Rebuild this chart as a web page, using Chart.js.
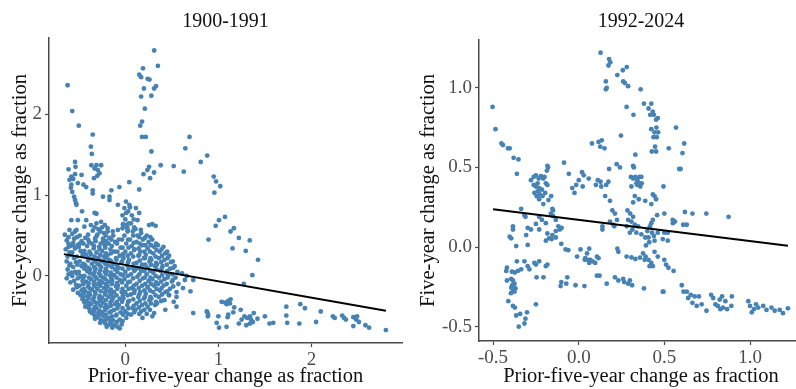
<!DOCTYPE html>
<html>
<head>
<meta charset="utf-8">
<script src="https://cdn.jsdelivr.net/npm/chart.js@4/dist/chart.umd.min.js"></script>
<style>
  html, body { margin: 0; padding: 0; background: #fff; overflow: hidden; width: 796px; height: 389px; }
  .panel { position: absolute; top: 0; height: 389px; }
  #early { left: 0; width: 406px; }
  #recent { left: 406px; width: 401px; }
</style>
</head>
<body>
<div class="panel" id="early"><canvas id="earlyCanvas"></canvas></div>
<div class="panel" id="recent"><canvas id="recentCanvas"></canvas></div>
<script>
const titles = ["1900-1991", "1992-2024"];
const xTitle = "Prior-five-year change as fraction";
const yTitle = "Five-year change as fraction";

const earlyXTicks = [0, 1, 2];
const earlyYTicks = [0, 1, 2];
const recentXTicks = [-0.5, 0.0, 0.5, 1.0];
const recentYTicks = [-0.5, 0.0, 0.5, 1.0];

// fitted lines, read at the two ends
const earlyFitX = [-0.66, 2.80];
const earlyFitY = [0.27, -0.43];
const recentFitX = [-0.50, 1.22];
const recentFitY = [0.237, 0.008];

// 1900-1991: scattered points above and right of the main cloud
const earlySparse = [
  [-0.62,2.36],[-0.57,2.04],[-0.50,1.86],[-0.35,1.75],[-0.37,1.60],[-0.36,1.51],
  [0.31,2.79],[0.35,2.60],[0.19,2.57],[0.15,2.49],[0.17,2.46],[0.24,2.44],[0.26,2.43],[0.33,2.35],
  [0.31,2.32],[0.20,2.32],[0.28,2.23],[0.17,2.22],[0.21,2.07],[0.18,1.91],[0.16,1.86],[0.18,1.72],
  [0.22,1.72],[0.28,1.54],[0.255,1.35],[0.237,1.31],[0.195,1.26],[0.309,1.28],[0.266,1.21],[0.38,1.37],
  [0.52,1.36],[0.628,1.29],[0.645,1.58],[0.69,1.72],[0.81,1.41],[0.88,1.49],[0.95,1.23],[0.975,1.17],
  [1.02,1.11],[0.957,1.03],[1.071,0.73],[1.007,0.69],[0.971,0.62],[1.131,0.55],[1.167,0.59],[0.894,0.45],
  [1.22,0.47],[1.337,0.44],[1.152,0.34],[1.294,0.31],[1.426,0.20],[1.365,0.01],[1.273,-0.10],[0.149,1.07],
  [-0.54,1.41],[-0.61,1.32],[-0.535,1.35],[-0.365,1.37],[-0.31,1.37],[-0.26,1.37],[-0.33,1.33],[-0.295,1.31],
  [-0.277,1.27],[-0.30,1.24],[-0.337,1.21],[-0.54,1.26],[-0.47,1.25],[-0.58,1.23],[-0.60,1.19],[-0.56,1.20],
  [-0.51,1.15],[-0.45,1.13],[-0.58,1.13],[-0.585,1.09],[-0.42,1.10],[-0.35,1.02],[-0.35,1.06],[-0.57,1.04],
  [-0.55,0.98],[-0.54,0.94],[-0.53,0.90],[-0.525,0.88],[-0.24,0.98],[-0.17,0.98],[-0.17,0.94],[-0.15,1.06],
  [-0.08,0.88],[-0.064,1.10],[0.043,1.16],[0.007,0.92],[0.043,0.88],[-0.465,0.80],[-0.42,0.69],[-0.33,0.78],
  [-0.31,0.77],[-0.58,0.69],[-0.51,0.69],[-0.44,0.61],[-0.40,0.51],[-0.525,0.57],[-0.60,0.57],[-0.54,0.55],
  [-0.65,0.51],[-0.61,0.48],[-0.26,0.67],[-0.22,0.63],[-0.19,0.59],[-0.135,0.55],[-0.08,0.57],[-0.03,0.59],
  [0.007,0.63],[0.025,0.57],[-0.61,0.36],[-0.56,0.38],[-0.49,0.40],[-0.40,0.45],[-0.31,0.49],[-0.24,0.42],
  [0.114,0.84],[0.149,0.78],[0.131,0.69],[0.167,0.57],[0.255,0.63],[0.29,0.64],[0.326,0.62]
];

// 1900-1991: the dense cloud near the origin
const earlyCloud = [
  [-0.63,0.44],[-0.61,0.40],[-0.64,0.33],[-0.60,0.29],[-0.62,0.24],[-0.63,0.18],[-0.60,0.13],[-0.62,0.08],[-0.61,0.02],[-0.63,-0.03],
  [-0.57,0.52],[-0.55,0.46],[-0.56,0.41],[-0.54,0.34],[-0.57,0.29],[-0.55,0.22],[-0.53,0.17],[-0.56,0.11],[-0.54,0.05],[-0.57,0.00],[-0.55,-0.06],[-0.53,-0.11],[-0.56,-0.17],
  [-0.49,0.50],[-0.47,0.43],[-0.50,0.36],[-0.48,0.31],[-0.46,0.25],[-0.49,0.18],[-0.47,0.12],[-0.50,0.05],[-0.48,0.00],[-0.46,-0.06],[-0.49,-0.12],[-0.47,-0.18],[-0.48,-0.24],[-0.46,-0.29],
  [-0.43,0.47],[-0.41,0.37],[-0.44,0.31],[-0.42,0.26],[-0.40,0.19],[-0.43,0.13],[-0.41,0.06],[-0.44,0.00],[-0.42,-0.07],[-0.40,-0.13],[-0.43,-0.19],[-0.41,-0.25],[-0.42,-0.31],[-0.40,-0.36],[-0.43,-0.38],
  [-0.37,0.63],[-0.35,0.56],[-0.36,0.40],[-0.34,0.34],[-0.37,0.27],[-0.35,0.21],[-0.36,0.15],[-0.38,0.08],[-0.35,0.02],[-0.37,-0.04],[-0.34,-0.10],[-0.36,-0.17],[-0.38,-0.23],[-0.35,-0.29],[-0.37,-0.35],[-0.34,-0.41],[-0.36,-0.46],
  [-0.31,0.65],[-0.29,0.58],[-0.30,0.51],[-0.32,0.43],[-0.28,0.36],[-0.31,0.29],[-0.29,0.22],[-0.30,0.15],[-0.32,0.09],[-0.28,0.03],[-0.31,-0.03],[-0.29,-0.10],[-0.30,-0.16],[-0.32,-0.22],[-0.28,-0.28],[-0.30,-0.34],[-0.31,-0.40],[-0.29,-0.46],[-0.30,-0.51],
  [-0.25,0.60],[-0.23,0.53],[-0.24,0.46],[-0.22,0.38],[-0.25,0.31],[-0.23,0.24],[-0.24,0.18],[-0.26,0.11],[-0.22,0.05],[-0.24,-0.02],[-0.25,-0.08],[-0.23,-0.15],[-0.22,-0.21],[-0.25,-0.27],[-0.24,-0.33],[-0.22,-0.39],[-0.25,-0.45],[-0.23,-0.50],[-0.24,-0.56],
  [-0.19,0.55],[-0.17,0.47],[-0.18,0.40],[-0.16,0.33],[-0.19,0.26],[-0.17,0.20],[-0.18,0.13],[-0.20,0.06],[-0.16,0.00],[-0.18,-0.07],[-0.19,-0.13],[-0.17,-0.20],[-0.18,-0.26],[-0.16,-0.33],[-0.19,-0.39],[-0.17,-0.45],[-0.18,-0.52],[-0.16,-0.57],[-0.19,-0.61],
  [-0.13,0.50],[-0.11,0.42],[-0.12,0.30],[-0.10,0.22],[-0.13,0.15],[-0.11,0.08],[-0.12,0.01],[-0.14,-0.06],[-0.10,-0.13],[-0.12,-0.20],[-0.13,-0.27],[-0.11,-0.35],[-0.12,-0.42],[-0.10,-0.49],[-0.13,-0.55],[-0.11,-0.61],
  [-0.07,0.45],[-0.05,0.35],[-0.06,0.25],[-0.04,0.17],[-0.07,0.10],[-0.05,0.02],[-0.06,-0.05],[-0.08,-0.12],[-0.04,-0.20],[-0.06,-0.28],[-0.07,-0.36],[-0.05,-0.45],[-0.06,-0.54],[-0.04,-0.60],[-0.06,-0.65],
  [-0.01,0.84],[0.01,0.78],[0.00,0.70],[0.02,0.60],[-0.01,0.50],[0.01,0.40],[0.00,0.30],[-0.02,0.22],[0.02,0.13],[0.00,0.05],[-0.01,-0.04],[0.01,-0.12],[0.00,-0.20],[-0.02,-0.28],[0.02,-0.36],[0.00,-0.44],[0.01,-0.52],
  [0.05,0.85],[0.07,0.75],[0.06,0.65],[0.08,0.55],[0.05,0.45],[0.07,0.37],[0.06,0.28],[0.04,0.20],[0.08,0.10],[0.06,0.02],[0.05,-0.07],[0.07,-0.15],[0.06,-0.23],[0.04,-0.31],[0.08,-0.40],[0.06,-0.48],
  [0.11,0.58],[0.13,0.50],[0.12,0.42],[0.10,0.33],[0.14,0.25],[0.12,0.16],[0.11,0.08],[0.13,-0.01],[0.12,-0.10],[0.10,-0.18],[0.14,-0.26],[0.12,-0.34],[0.11,-0.42],
  [0.17,0.53],[0.19,0.45],[0.18,0.38],[0.16,0.30],[0.20,0.22],[0.18,0.14],[0.17,0.06],[0.19,-0.03],[0.18,-0.12],[0.16,-0.20],[0.20,-0.28],[0.18,-0.36],[0.17,-0.44],
  [0.23,0.50],[0.25,0.42],[0.24,0.34],[0.22,0.26],[0.26,0.18],[0.24,0.10],[0.23,0.02],[0.25,-0.06],[0.24,-0.14],[0.22,-0.22],[0.26,-0.30],[0.24,-0.38],[0.23,-0.47],
  [0.29,0.45],[0.31,0.36],[0.30,0.28],[0.28,0.20],[0.32,0.12],[0.30,0.04],[0.29,-0.04],[0.31,-0.12],[0.30,-0.20],[0.28,-0.28],[0.32,-0.36],
  [0.35,0.38],[0.37,0.30],[0.36,0.22],[0.34,0.14],[0.38,0.06],[0.36,-0.02],[0.35,-0.10],[0.37,-0.18],[0.36,-0.26],[0.34,-0.34],
  [0.41,0.36],[0.43,0.28],[0.42,0.20],[0.40,0.12],[0.44,0.04],[0.42,-0.04],[0.41,-0.12],[0.43,-0.20],[0.42,-0.30],
  [0.47,0.25],[0.49,0.17],[0.48,0.09],[0.46,0.01],[0.50,-0.07],[0.48,-0.16],[0.47,-0.24],
  [0.53,0.12],[0.56,0.05],[0.54,-0.02],[0.57,-0.10],[0.55,-0.20],[0.61,0.03],[0.64,-0.05],[0.62,-0.15],[0.66,0.00]
];

// 1900-1991: more of the cloud, read between the points above
const earlyCloudFill = [
  [-0.59,0.37],[-0.58,0.26],[-0.59,0.15],[-0.58,0.04],[-0.59,-0.08],
  [-0.52,0.48],[-0.51,0.38],[-0.52,0.24],[-0.515,0.14],[-0.52,0.03],[-0.51,-0.03],[-0.52,-0.14],[-0.51,-0.21],
  [-0.45,0.40],[-0.455,0.28],[-0.45,0.15],[-0.44,0.09],[-0.455,-0.03],[-0.45,-0.10],[-0.445,-0.16],[-0.45,-0.22],[-0.455,-0.27],[-0.44,-0.33],
  [-0.39,0.42],[-0.385,0.30],[-0.39,0.22],[-0.395,0.10],[-0.385,0.04],[-0.39,-0.02],[-0.395,-0.09],[-0.385,-0.15],[-0.39,-0.21],[-0.395,-0.27],[-0.385,-0.33],[-0.39,-0.40],[-0.38,-0.44],
  [-0.33,0.60],[-0.325,0.46],[-0.335,0.37],[-0.33,0.24],[-0.325,0.18],[-0.335,0.11],[-0.33,0.05],[-0.325,-0.01],[-0.335,-0.07],[-0.33,-0.13],[-0.325,-0.20],[-0.335,-0.26],[-0.33,-0.32],[-0.325,-0.38],[-0.335,-0.44],[-0.33,-0.49],[-0.325,-0.53],
  [-0.27,0.55],[-0.265,0.40],[-0.275,0.33],[-0.27,0.26],[-0.265,0.19],[-0.275,0.13],[-0.27,0.07],[-0.265,0.00],[-0.275,-0.06],[-0.27,-0.12],[-0.265,-0.19],[-0.275,-0.25],[-0.27,-0.31],[-0.265,-0.37],[-0.275,-0.43],[-0.27,-0.48],[-0.265,-0.54],[-0.27,-0.58],
  [-0.21,0.50],[-0.205,0.43],[-0.215,0.35],[-0.21,0.28],[-0.205,0.22],[-0.215,0.15],[-0.21,0.09],[-0.205,0.02],[-0.215,-0.04],[-0.21,-0.10],[-0.205,-0.17],[-0.215,-0.23],[-0.21,-0.30],[-0.205,-0.36],[-0.215,-0.42],[-0.21,-0.48],[-0.205,-0.54],[-0.215,-0.59],[-0.20,-0.63],
  [-0.15,0.45],[-0.145,0.37],[-0.155,0.28],[-0.15,0.18],[-0.145,0.11],[-0.155,0.04],[-0.15,-0.03],[-0.145,-0.10],[-0.155,-0.17],[-0.15,-0.23],[-0.145,-0.30],[-0.155,-0.37],[-0.15,-0.44],[-0.145,-0.50],[-0.155,-0.55],[-0.15,-0.60],[-0.14,-0.64],
  [-0.09,0.40],[-0.085,0.30],[-0.095,0.20],[-0.09,0.13],[-0.085,0.05],[-0.095,-0.02],[-0.09,-0.09],[-0.085,-0.16],[-0.095,-0.24],[-0.09,-0.32],[-0.085,-0.40],[-0.095,-0.48],[-0.09,-0.57],[-0.085,-0.63],
  [-0.03,0.75],[-0.025,0.64],[-0.035,0.45],[-0.03,0.35],[-0.025,0.27],[-0.035,0.18],[-0.03,0.09],[-0.025,0.01],[-0.035,-0.08],[-0.03,-0.16],[-0.025,-0.24],[-0.035,-0.32],[-0.03,-0.40],[-0.025,-0.48],[-0.03,-0.56],
  [0.03,0.80],[0.035,0.65],[0.025,0.55],[0.03,0.45],[0.035,0.35],[0.025,0.25],[0.03,0.17],[0.035,0.09],[0.025,0.00],[0.03,-0.08],[0.035,-0.16],[0.025,-0.24],[0.03,-0.32],[0.035,-0.40],[0.025,-0.47],
  [0.09,0.70],[0.095,0.60],[0.085,0.50],[0.09,0.41],[0.095,0.32],[0.085,0.24],[0.09,0.15],[0.095,0.06],[0.085,-0.03],[0.09,-0.12],[0.095,-0.21],[0.085,-0.29],[0.09,-0.37],[0.095,-0.45],
  [0.15,0.48],[0.155,0.40],[0.145,0.34],[0.15,0.26],[0.155,0.19],[0.145,0.10],[0.15,0.02],[0.155,-0.06],[0.145,-0.15],[0.15,-0.23],[0.155,-0.31],[0.145,-0.39],[0.15,-0.47],
  [0.21,0.47],[0.215,0.38],[0.205,0.30],[0.21,0.22],[0.215,0.14],[0.205,0.06],[0.21,-0.02],[0.215,-0.10],[0.205,-0.18],[0.21,-0.26],[0.215,-0.34],[0.205,-0.42],
  [0.27,0.48],[0.275,0.38],[0.265,0.30],[0.27,0.22],[0.275,0.14],[0.265,0.06],[0.27,-0.02],[0.275,-0.10],[0.265,-0.18],[0.27,-0.26],[0.275,-0.34],[0.265,-0.42],
  [0.33,0.40],[0.335,0.32],[0.325,0.24],[0.33,0.16],[0.335,0.08],[0.325,0.00],[0.33,-0.08],[0.335,-0.16],[0.325,-0.24],[0.33,-0.32],
  [0.39,0.33],[0.395,0.25],[0.385,0.17],[0.39,0.09],[0.395,0.01],[0.385,-0.07],[0.39,-0.15],[0.395,-0.23],[0.385,-0.31],
  [0.45,0.30],[0.455,0.22],[0.445,0.14],[0.45,0.06],[0.455,-0.02],[0.445,-0.10],[0.45,-0.19],
  [0.51,0.18],[0.515,0.10],[0.505,0.02],[0.51,-0.05],[0.515,-0.13]
];

// 1900-1991: the low band to the right
const earlyTail = [
  [0.70,-0.19],[0.55,-0.26],[0.73,-0.46],[0.88,-0.45],[0.89,-0.48],[0.55,-0.38],[0.31,-0.46],[0.29,-0.50],
  [0.184,-0.52],[0.52,-0.32],[0.43,-0.42],[0.73,-0.05],[0.468,-0.235],
  [1.035,-0.32],[1.071,-0.33],[1.106,-0.31],[1.131,-0.29],[1.089,-0.35],[1.124,-0.34],[1.170,-0.39],[1.160,-0.45],
  [1.106,-0.48],[1.099,-0.51],[0.876,-0.44],[0.887,-0.50],[1.0,-0.50],[0.982,-0.58],[1.007,-0.64],[1.088,-0.63],
  [1.22,-0.59],[1.25,-0.54],[1.28,-0.50],[1.31,-0.52],[1.34,-0.50],[1.35,-0.54],[1.38,-0.46],[1.42,-0.53],
  [1.30,-0.61],[1.34,-0.59],[1.37,-0.57],[1.24,-0.42],[1.50,-0.50],[1.55,-0.59],[1.59,-0.58],[1.73,-0.38],
  [1.73,-0.49],[1.74,-0.58],[1.87,-0.59],[1.88,-0.35],[1.93,-0.40],[2.05,-0.57],[2.10,-0.44],[2.23,-0.50],
  [2.25,-0.52],[2.33,-0.49],[2.35,-0.52],[2.37,-0.54],[2.45,-0.62],[2.45,-0.51],[2.48,-0.54],[2.51,-0.57],
  [2.49,-0.50],[2.58,-0.61],[2.62,-0.64],[2.80,-0.67]
];

// 1992-2024
const recentUpper = [
  [0.127,1.22],[0.177,1.18],[0.184,1.16],[0.173,1.14],[0.280,1.13],[0.257,1.11],[0.225,1.08],[0.158,1.04],
  [0.163,1.00],[0.158,0.99],[0.259,1.04],[0.269,1.03],[0.288,1.01],[0.361,0.99],[0.279,0.88],
  [0.380,0.90],[0.423,0.90],[0.407,0.87],[0.432,0.85],[0.438,0.83],[0.417,0.83],[0.461,0.81],[0.451,0.80],
  [0.423,0.74],[0.453,0.75],[0.442,0.72],[0.463,0.72],[0.436,0.69],[0.455,0.69],[0.426,0.60],[0.445,0.63],
  [0.451,0.60],[0.319,0.83],[0.567,0.75],[0.246,0.70],[0.330,0.58],[0.525,0.62],[0.615,0.65],[0.605,0.59],
  [0.586,0.49],[0.594,0.49],[0.494,0.38],[0.077,0.65],[0.115,0.66],[0.134,0.67],[0.125,0.63],[0.150,0.62],
  [-0.503,0.88],[-0.486,0.74],[-0.451,0.65],[-0.442,0.64],[-0.413,0.62],[-0.403,0.62],[-0.380,0.56],[-0.352,0.55],[-0.361,0.46]
];

const recentMiddle = [
  [-0.086,0.53],[-0.183,0.51],[-0.179,0.50],[-0.186,0.48],[-0.058,0.46],[0.019,0.47],[0.029,0.45],[0.000,0.42],
  [-0.015,0.39],[-0.038,0.37],[-0.025,0.34],[0.023,0.38],[0.058,0.43],[0.111,0.42],[0.127,0.41],[0.100,0.39],
  [0.131,0.38],[0.173,0.41],[0.160,0.39],[0.177,0.49],[0.221,0.52],[0.240,0.50],[0.317,0.51],[0.321,0.50],
  [0.304,0.44],[0.317,0.43],[0.330,0.44],[0.342,0.42],[0.354,0.44],[0.365,0.44],[0.336,0.40],[0.352,0.40],
  [0.367,0.40],[0.307,0.38],[0.342,0.39],[0.359,0.38],[0.327,0.32],[0.350,0.30],[0.317,0.28],
  [0.154,0.32],[0.182,0.29],[0.196,0.23],[0.211,0.21],[0.223,0.17],
  [0.432,0.33],[0.442,0.32],[0.451,0.30],[0.423,0.27],[0.388,0.29],[0.499,0.21],[0.457,0.20],
  [0.432,0.17],[0.423,0.15],[0.415,0.13],[0.400,0.10],[0.388,0.06],[0.407,0.06],[0.427,0.09],[0.438,0.07],
  [0.461,0.09],[0.442,0.04],[0.411,0.03],[0.392,0.01],
  [0.284,0.23],[0.300,0.21],[0.317,0.19],[0.288,0.17],[0.307,0.16],[0.327,0.14],[0.346,0.13],[0.280,0.13],
  [0.313,0.11],[0.298,0.09],[0.336,0.09],[0.365,0.08],[0.499,0.09],[0.490,0.05],[0.519,0.09],[0.519,0.04],
  [0.548,0.17],[0.561,0.16],[0.549,0.15],[0.619,0.22],[0.663,0.21],[0.609,0.14],[0.630,0.14],[0.744,0.21],[0.874,0.19],
  [0.138,0.13],[0.138,0.11],[0.182,0.16],[0.207,0.13],[0.202,0.14],
  [-0.279,0.42],[-0.263,0.44],[-0.250,0.45],[-0.234,0.43],[-0.221,0.445],[-0.207,0.43],[-0.192,0.40],[-0.263,0.39],
  [-0.250,0.38],[-0.240,0.40],[-0.231,0.37],[-0.215,0.36],[-0.240,0.35],[-0.259,0.34],[-0.246,0.32],[-0.227,0.33],
  [-0.211,0.32],[-0.196,0.34],[-0.183,0.39],[-0.177,0.295],[-0.161,0.32],[-0.231,0.30],[-0.200,0.44],
  [-0.336,0.24],[-0.317,0.20],[-0.311,0.19],[-0.298,0.12],[-0.279,0.11],[-0.307,0.075],[-0.384,0.11],[-0.403,0.065],
  [-0.394,0.055],[-0.365,0.006],[-0.384,0.13],[-0.231,0.19],[-0.215,0.17],[-0.192,0.15],[-0.163,0.21],[-0.150,0.23],
  [-0.150,0.195],[-0.134,0.17],[-0.119,0.13],[-0.111,0.11],[-0.134,0.10],[-0.154,0.075],[-0.134,0.06],[-0.100,0.12],
  [-0.158,0.05],[-0.250,0.145],[-0.231,0.11],[-0.183,0.085],[-0.173,0.055],[-0.192,0.04],[-0.102,0.02],[-0.077,-0.015],
  [-0.298,0.013],[-0.207,0.27],[-0.154,0.24]
];

const recentLower = [
  [0.225,-0.01],[0.231,-0.03],[0.279,-0.06],[0.307,-0.065],[0.330,-0.075],[0.357,-0.067],[0.375,-0.04],[0.390,-0.06],
  [0.384,-0.08],[0.407,-0.08],[0.423,-0.10],[0.432,-0.12],[0.413,-0.12],[0.442,-0.03],[0.461,-0.06],[0.499,-0.08],
  [0.509,-0.11],[0.523,-0.13],[0.211,-0.19],[0.231,-0.21],[0.259,-0.20],[0.265,-0.22],[0.288,-0.23],[0.298,-0.21],
  [0.311,-0.24],[0.163,-0.23],[0.380,-0.26],[0.490,-0.28],[0.106,-0.18],[0.121,-0.18],[0.033,-0.245],
  [0.048,-0.04],[0.061,-0.01],[0.038,-0.07],[0.054,-0.08],[0.067,-0.08],[0.081,-0.09],[0.096,-0.10],[0.061,-0.10],
  [0.035,-0.08],[0.106,-0.06],[0.115,-0.07],[-0.010,-0.06],[0.010,-0.015],[-0.061,-0.02],[-0.019,-0.24],
  [-0.102,-0.22],[-0.073,-0.23],[-0.067,-0.19],[-0.106,-0.245],[-0.192,-0.12],[-0.183,-0.11],
  [-0.246,-0.19],[-0.298,-0.12],[-0.288,-0.14],[-0.250,-0.11],[-0.259,-0.10],[-0.231,-0.09],[-0.317,-0.09],
  [-0.336,-0.14],[-0.355,-0.15],[-0.373,-0.16],[-0.390,-0.155],[-0.419,-0.13],[-0.361,-0.09],[-0.250,-0.36],[-0.206,-0.19],
  [-0.419,-0.21],[-0.394,-0.20],[-0.384,-0.21],[-0.375,-0.23],[-0.388,-0.24],[-0.380,-0.25],[-0.394,-0.255],[-0.369,-0.26],
  [-0.384,-0.27],[-0.375,-0.28],[-0.396,-0.29],[-0.411,-0.34],[-0.384,-0.37],[-0.373,-0.38],[-0.365,-0.43],[-0.342,-0.42],
  [-0.350,-0.50],[-0.317,-0.48],[-0.311,-0.45],[-0.302,-0.41],[-0.423,-0.15],
  [0.601,-0.24],[0.611,-0.28],[0.630,-0.28],[0.638,-0.32],[0.653,-0.30],[0.676,-0.31],[0.701,-0.31],[0.663,-0.35],
  [0.688,-0.37],[0.717,-0.36],[0.745,-0.40],[0.772,-0.30],[0.784,-0.32],[0.797,-0.36],[0.811,-0.37],[0.822,-0.33],
  [0.836,-0.31],[0.826,-0.39],[0.841,-0.38],[0.865,-0.39],[0.855,-0.34],[0.893,-0.31],[0.890,-0.37],[0.989,-0.34],
  [0.999,-0.37],[1.009,-0.41],[1.022,-0.39],[1.034,-0.36],[1.047,-0.38],[1.076,-0.37],[1.095,-0.395],[1.124,-0.38],
  [1.143,-0.40],[1.172,-0.395],[1.191,-0.415],[1.220,-0.385],[0.494,-0.28],[0.553,-0.15]
];

const serif = "'Liberation Serif', 'Times New Roman', serif";
const pointColor = "#4682b4";
const axisColor = "#4a4a4a";

function toXY(pairs) {
  return pairs.map(p => ({ x: p[0], y: p[1] }));
}

function makePanel(canvas, cfg) {
  return new Chart(canvas, {
    type: "scatter",
    data: {
      datasets: [
        {
          data: cfg.fitX.map((x, i) => ({ x: x, y: cfg.fitY[i] })),
          showLine: true,
          borderColor: "#000",
          borderWidth: 2,
          pointRadius: 0,
          order: 0
        },
        {
          data: toXY(cfg.points),
          backgroundColor: pointColor,
          borderWidth: 0,
          pointRadius: 2.4,
          order: 1
        }
      ]
    },
    options: {
      responsive: true,
      maintainAspectRatio: false,
      animation: false,
      devicePixelRatio: 1,
      layout: { padding: 0 },
      plugins: {
        legend: { display: false },
        tooltip: { enabled: false },
        title: {
          display: true,
          fullSize: false,
          text: cfg.title,
          color: "#111",
          font: { family: serif, size: 20, weight: "normal" },
          padding: { top: cfg.titleTop, bottom: cfg.titleBottom }
        }
      },
      scales: {
        x: {
          type: "linear",
          min: cfg.xMin,
          max: cfg.xMax,
          afterBuildTicks: s => { s.ticks = cfg.xTicks.map(v => ({ value: v })); },
          afterFit: s => { s.height = cfg.xHeight; },
          ticks: {
            callback: cfg.fmt,
            color: "#4d4d4d",
            padding: 2,
            font: { family: serif, size: 19 }
          },
          grid: { drawOnChartArea: false, drawTicks: true, tickLength: 4, tickColor: axisColor, tickWidth: 1.2 },
          border: { display: true, color: axisColor, width: 1.5 },
          title: {
            display: true,
            text: xTitle,
            color: "#111",
            font: { family: serif, size: 20.5 },
            padding: { top: 0, bottom: 0 }
          }
        },
        y: {
          type: "linear",
          min: cfg.yMin,
          max: cfg.yMax,
          afterBuildTicks: s => { s.ticks = cfg.yTicks.map(v => ({ value: v })); },
          afterFit: s => { s.width = cfg.yWidth; },
          ticks: {
            callback: cfg.fmt,
            color: "#4d4d4d",
            padding: 3,
            font: { family: serif, size: 19 }
          },
          grid: { drawOnChartArea: false, drawTicks: true, tickLength: 4, tickColor: axisColor, tickWidth: 1.2 },
          border: { display: true, color: axisColor, width: 1.5 },
          title: {
            display: true,
            text: yTitle,
            color: "#111",
            font: { family: serif, size: 20.5 },
            padding: { top: cfg.yTitlePad, bottom: 0 }
          }
        }
      }
    }
  });
}

makePanel(document.getElementById("earlyCanvas"), {
  title: titles[0],
  points: earlySparse.concat(earlyCloud, earlyCloudFill, earlyTail),
  fitX: earlyFitX, fitY: earlyFitY,
  xMin: -0.82, xMax: 2.973, yMin: -0.83, yMax: 2.945,
  xTicks: earlyXTicks, yTicks: earlyYTicks,
  fmt: v => String(v),
  titleTop: 10, titleBottom: 4,
  xHeight: 46, yWidth: 49, yTitlePad: 8
});

makePanel(document.getElementById("recentCanvas"), {
  title: titles[1],
  points: recentUpper.concat(recentMiddle, recentLower),
  fitX: recentFitX, fitY: recentFitY,
  xMin: -0.582, xMax: 1.308, yMin: -0.59, yMax: 1.30,
  xTicks: recentXTicks, yTicks: recentYTicks,
  fmt: v => v.toFixed(1),
  titleTop: 10, titleBottom: 6,
  xHeight: 48, yWidth: 73, yTitlePad: 10
});
</script>
</body>
</html>
